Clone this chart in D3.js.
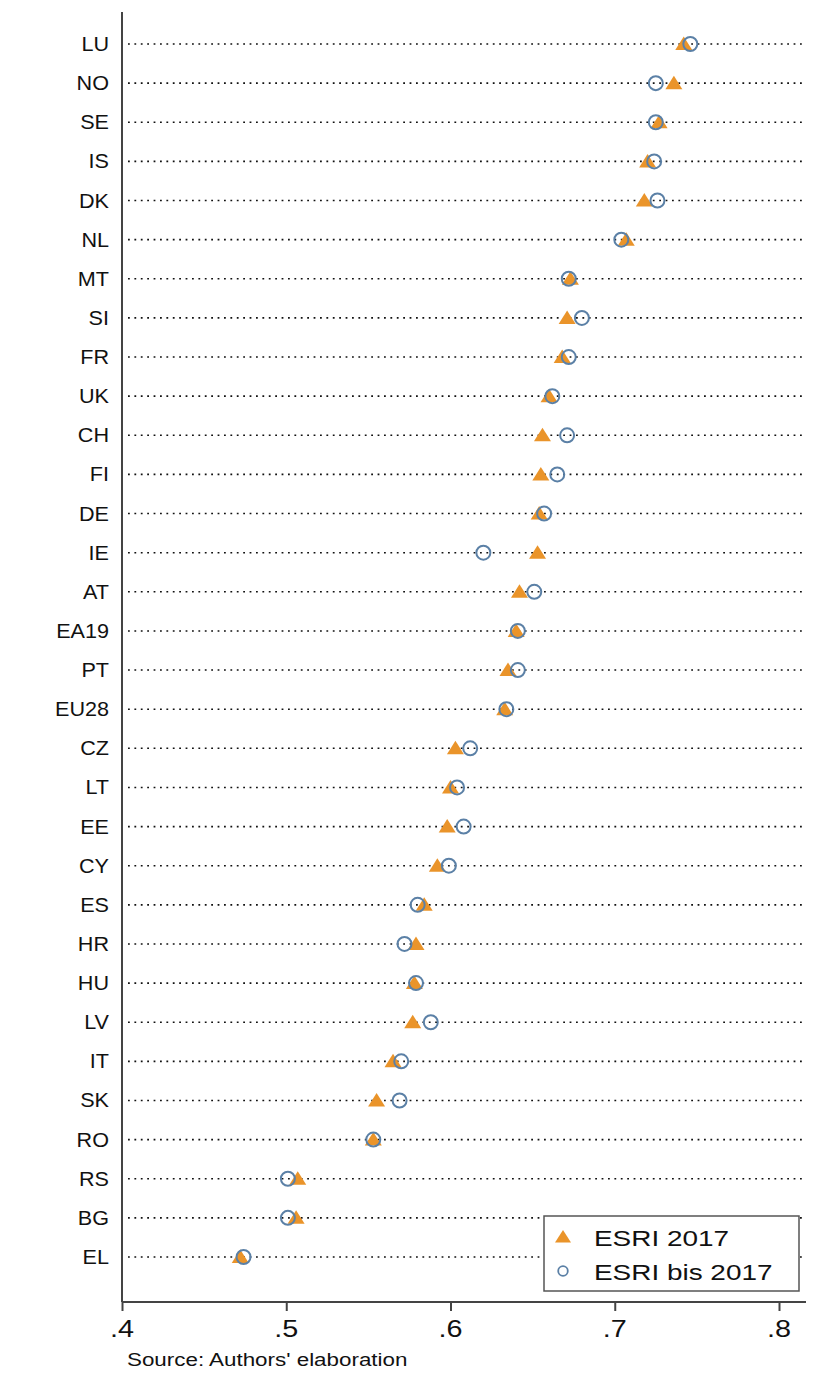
<!DOCTYPE html>
<html>
<head>
<meta charset="utf-8">
<script src="https://cdn.jsdelivr.net/npm/d3@7"></script>
<style>
  body { margin: 0; background: #fff; }
  svg { display: block; }
  text { font-family: "Liberation Sans", Arial, Helvetica, sans-serif; fill: #111; }
</style>
</head>
<body>
<script>
// Country codes, sorted by the ESRI 2017 score
const countries = ["LU","NO","SE","IS","DK","NL","MT","SI","FR","UK","CH","FI","DE","IE","AT",
  "EA19","PT","EU28","CZ","LT","EE","CY","ES","HR","HU","LV","IT","SK","RO","RS","BG","EL"];

// ESRI 2017 (triangles)
const esri2017 = [0.742,0.736,0.727,0.720,0.718,0.707,0.673,0.671,0.668,0.660,0.656,0.655,0.654,0.653,0.642,
  0.640,0.635,0.633,0.603,0.600,0.598,0.592,0.584,0.579,0.578,0.577,0.565,0.555,0.553,0.507,0.506,0.472];

// ESRI bis 2017 (hollow circles)
const esriBis2017 = [0.746,0.725,0.725,0.724,0.726,0.704,0.672,0.680,0.672,0.662,0.671,0.665,0.657,0.620,0.651,
  0.641,0.641,0.634,0.612,0.604,0.608,0.599,0.580,0.572,0.579,0.588,0.570,0.569,0.553,0.501,0.501,0.474];

const xTicks = [0.4, 0.5, 0.6, 0.7, 0.8];
const xTickLabels = [".4", ".5", ".6", ".7", ".8"];
const legendLabels = ["ESRI 2017", "ESRI bis 2017"];
const sourceNote = "Source: Authors' elaboration";

const W = 824, H = 1387;
const orange = "#EA942A", blue = "#5B80A6";

const svg = d3.select("body").append("svg").attr("width", W).attr("height", H);

const x = d3.scaleLinear().domain([0.4, 0.8]).range([122, 779]);
const y = d3.scalePoint().domain(countries).range([44, 1257]);

const plotLeft = 122, plotRight = 806, plotTop = 12, plotBottom = 1302;

// Text helper with a slight horizontal stretch
function stretchedText(g, tx, ty, str, size, sx, anchor) {
  return g.append("text")
    .attr("transform", `translate(${tx},${ty}) scale(${sx},1)`)
    .attr("text-anchor", anchor)
    .style("font-size", size + "px")
    .text(str);
}

// Dotted guide lines for each country
svg.append("g").selectAll("line").data(countries).join("line")
  .attr("x1", plotLeft + 6).attr("x2", plotRight - 3)
  .attr("y1", d => y(d)).attr("y2", d => y(d))
  .attr("stroke", "#111").attr("stroke-width", 1.6)
  .attr("stroke-dasharray", "1.8,4.6");

// Country labels
const lab = svg.append("g");
countries.forEach(c => stretchedText(lab, 109, y(c) + 7, c, 20, 1.08, "end"));

// Axes lines
svg.append("line").attr("x1", plotLeft).attr("x2", plotLeft)
  .attr("y1", plotTop).attr("y2", plotBottom)
  .attr("stroke", "#444").attr("stroke-width", 2);

const xAxis = svg.append("g").attr("transform", `translate(0,${plotBottom})`)
  .call(d3.axisBottom(x).tickValues(xTicks).tickSize(9).tickFormat(""));
xAxis.select(".domain").attr("d", `M${plotLeft},0H${plotRight}`)
  .attr("stroke", "#444").attr("stroke-width", 2);
xAxis.selectAll(".tick line").attr("stroke", "#444").attr("stroke-width", 2);

const tl = svg.append("g");
xTicks.forEach((t, i) => stretchedText(tl, x(t), 1337, xTickLabels[i], 24, 1.2, "middle"));

// Markers
const triPath = "M0,-7.5L8.5,6L-8.5,6Z";
svg.append("g").selectAll("path").data(countries).join("path")
  .attr("d", triPath)
  .attr("transform", (d, i) => `translate(${x(esri2017[i])},${y(d)})`)
  .attr("fill", orange);

svg.append("g").selectAll("circle").data(countries).join("circle")
  .attr("cx", (d, i) => x(esriBis2017[i])).attr("cy", d => y(d))
  .attr("r", 7).attr("fill", "none")
  .attr("stroke", blue).attr("stroke-width", 2);

// Legend
const lg = svg.append("g");
lg.append("rect").attr("x", 544).attr("y", 1216).attr("width", 255).attr("height", 75)
  .attr("fill", "#fff").attr("stroke", "#555").attr("stroke-width", 1.5);
lg.append("path").attr("d", "M0,-7L8,5.5L-8,5.5Z")
  .attr("transform", "translate(563,1237)").attr("fill", orange);
lg.append("circle").attr("cx", 563).attr("cy", 1271).attr("r", 4.8)
  .attr("fill", "none").attr("stroke", blue).attr("stroke-width", 1.8);
stretchedText(lg, 594, 1246, legendLabels[0], 22, 1.27, "start");
stretchedText(lg, 594, 1280, legendLabels[1], 22, 1.27, "start");

// Source note
stretchedText(svg, 127, 1366, sourceNote, 17.5, 1.28, "start");
</script>
</body>
</html>
